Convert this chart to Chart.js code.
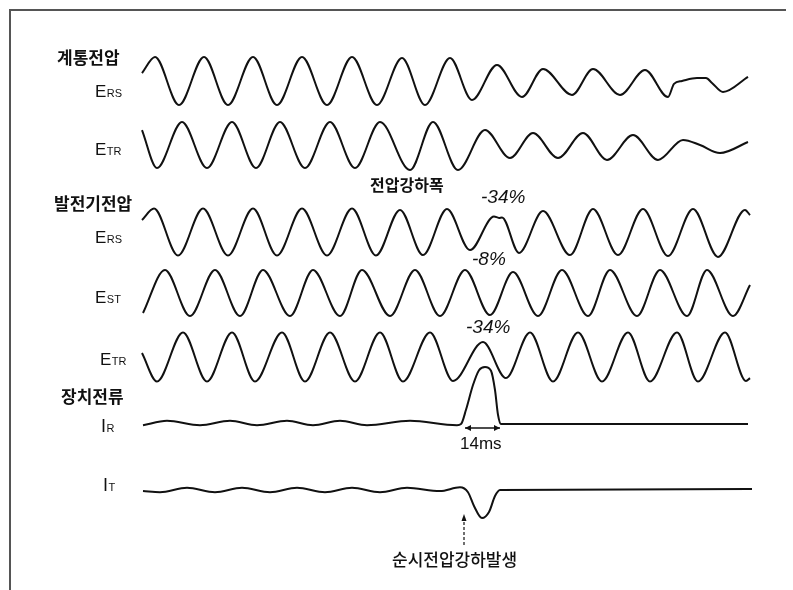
<!DOCTYPE html>
<html>
<head>
<meta charset="utf-8">
<script src="https://cdn.jsdelivr.net/npm/chart.js@4.4.1/dist/chart.umd.min.js"></script>
<style>
  html, body { margin: 0; padding: 0; background: #fff; }
  #wave { display: block; }
</style>
</head>
<body>
<canvas id="wave" width="793" height="590"></canvas>
<script>
// time in ms, value in per-unit; extrema
const sysErs = [[0,0.33],[5.2,1],[14.8,-1],[24.8,1],[34.4,-1],[44.4,1],[54,-1],[64,1],[74,-1],[84,1],[94,-1],
  [104,0.96],[113.2,-1],[123.2,0.96],[132,-0.79],[142,0.67],[152,-0.67],[160.4,0.5],[172,-0.58],[180.4,0.5],
  [191.2,-0.58],[201.2,0.46],[210.4,-0.67],[212.8,-0.12],[216,0],[222,0.12],[225.6,0.12],[228,-0.08],[232.4,-0.46],[242.4,0.17]];
const sysEtr = [[0,0.65],[6,-1],[16,1],[26,-1],[36,1],[45.6,-1],[55.2,1],[65.2,-1],[75.2,1],[85.2,-1],[95.2,1],
  [107.2,-1.09],[116.4,1],[126.4,-1.09],[137.2,0.65],[147.2,-0.57],[156.4,0.52],[166.4,-0.57],[176.4,0.52],
  [186,-0.65],[196.4,0.43],[206.4,-0.65],[216.4,0.22],[223.2,0],[231.2,-0.35],[242.4,0.13]];
const genErs = [[0,0.51],[4.8,1],[14.4,-1],[24.4,1],[34.4,-1],[44.4,1],[54,-1],[64,1],[74,-1],[84,1],[93.6,-1],
  [103.2,0.94],[112.4,-0.98],[122,0.98],[131.2,-0.77],[140.8,0.66],[142.8,0.6],[144,0.62],[150.8,-0.89],
  [160.4,0.89],[171.2,-0.98],[180.4,0.98],[190.4,-0.98],[200.4,0.98],[210.4,-1.02],[220.4,0.98],[230.4,-1.06],
  [241.2,0.94],[243.2,0.72]];
const genEst = [[0.4,-0.85],[9.2,0.98],[19.2,-0.98],[29.2,0.98],[39.2,-0.98],[48.4,0.98],[59.2,-0.98],[68.4,0.98],
  [79.2,-0.98],[88,0.98],[99.2,-0.98],[109.2,0.98],[119.2,-0.98],[129.2,0.98],[139.2,-0.94],[148.4,0.89],
  [158.4,-0.98],[168,0.98],[178.4,-0.98],[187.2,0.98],[198,-0.98],[207.2,0.98],[218,-0.98],[226,0.98],
  [236.4,-0.98],[243.2,0.34]];
const genEtr = [[0,0.16],[6,-1],[16.4,1],[26,-1],[36,1],[45.2,-1],[56,1],[65.2,-1],[75.2,1],[85.2,-1],[95.2,1],
  [104.4,-1],[115.2,1],[124.4,-0.98],[136.4,0.61],[145.6,-0.86],[155.2,1],[164.4,-1],[174.4,1],[184,-1],
  [194.4,1],[203.2,-1],[214,1],[222.4,-1],[233.2,1],[241.6,-0.98],[243.2,-0.86]];
const curR = [[0.4,-0.04],[10,0.04],[23.2,-0.04],[35.2,0.04],[46,-0.04],[58,0.04],[68.4,-0.04],[79.2,0.04],
  [90,-0.04],[107.2,0.04],[126,-0.04],[127.6,-0.02],[129.6,0.24],[132.4,0.69],[134.8,0.96],[137.2,1.02],
  [139.6,0.95],[141.2,0.6],[142.4,0.15],[143.6,-0.02],[147.2,-0.02],[242.4,-0.02]];
const curT = [[0.4,-0.02],[7.2,-0.04],[18,0.04],[29.2,-0.04],[40,0.04],[51.2,-0.04],[62,0.04],[73.2,-0.04],
  [84,0.04],[95.2,-0.04],[106,0.04],[119.2,-0.02],[127.2,0.05],[130.4,-0.04],[132.8,-0.29],[136,-0.51],
  [138.8,-0.4],[141.2,-0.11],[143.2,0],[244,0.02]];

const sagStart = 129.2;   // ms, start of the current pulse
const sagWidth = 14;      // ms

// trace placement on the sheet (baseline row, px per unit)
const traces = [
  { data: sysErs, base: 81,  gain: 24 },
  { data: sysEtr, base: 145, gain: 23 },
  { data: genErs, base: 232, gain: 23.5 },
  { data: genEst, base: 293, gain: 23.5 },
  { data: genEtr, base: 357, gain: 24.5 },
  { data: curR,   base: 423, gain: 55 },
  { data: curT,   base: 490, gain: 55 },
];

const KR = "'Noto Sans CJK KR', 'Noto Sans', sans-serif";
const LAT = "'Liberation Sans', Arial, sans-serif";

const sheetPlugin = {
  id: "sheet",
  afterDraw(chart) {
    const c = chart.ctx;
    const x = chart.scales.x;
    c.save();

    // frame
    c.strokeStyle = "#555";
    c.lineWidth = 2;
    c.beginPath();
    c.moveTo(10, 590); c.lineTo(10, 10); c.lineTo(786, 10);
    c.stroke();

    c.fillStyle = "#111";
    c.textBaseline = "middle";

    // group headings
    c.font = `bold 17px ${KR}`;
    c.fillText("계통전압", 57, 58);
    c.fillText("발전기전압", 54, 204);
    c.fillText("장치전류", 61, 397);

    // signal names with subscripts
    const sig = (main, sub, left, baseY, mSize, sSize) => {
      c.textBaseline = "alphabetic";
      c.font = `${mSize}px ${LAT}`;
      c.fillText(main, left, baseY);
      const w = c.measureText(main).width;
      c.font = `${sSize}px ${LAT}`;
      c.fillText(sub, left + w + 0.5, baseY);
    };
    sig("E", "RS", 95, 97, 17, 11);
    sig("E", "TR", 95, 155, 17, 11);
    sig("E", "RS", 95, 243, 17, 11);
    sig("E", "ST", 95, 303, 17, 11);
    sig("E", "TR", 100, 365, 17, 11);
    sig("I", "R", 101, 432, 18, 11);
    sig("I", "T", 103, 491, 18, 11);

    // annotations
    c.textBaseline = "middle";
    c.font = `bold 16px ${KR}`;
    c.fillText("전압강하폭", 370, 185);
    c.font = `italic 19px ${LAT}`;
    c.fillText("-34%", 481, 198);
    c.fillText("-8%", 472, 260);
    c.fillText("-34%", 466, 328);
    c.font = `17px ${LAT}`;
    c.fillText("14ms", 460, 444);
    c.font = `500 17px ${KR}`;
    c.fillText("순시전압강하발생", 392, 560);

    // 14 ms double arrow
    const a0 = x.getPixelForValue(sagStart);
    const a1 = x.getPixelForValue(sagStart + sagWidth);
    const ay = 428;
    c.strokeStyle = "#111";
    c.lineWidth = 1.5;
    c.beginPath();
    c.moveTo(a0, ay); c.lineTo(a1, ay);
    c.stroke();
    c.beginPath();
    c.moveTo(a0, ay); c.lineTo(a0 + 6, ay - 3); c.lineTo(a0 + 6, ay + 3); c.closePath();
    c.moveTo(a1, ay); c.lineTo(a1 - 6, ay - 3); c.lineTo(a1 - 6, ay + 3); c.closePath();
    c.fill();

    // event marker: dashed arrow pointing up
    const ex = x.getPixelForValue(sagStart - 0.4);
    c.setLineDash([3, 2]);
    c.lineWidth = 1.2;
    c.beginPath();
    c.moveTo(ex, 545); c.lineTo(ex, 519);
    c.stroke();
    c.setLineDash([]);
    c.beginPath();
    c.moveTo(ex, 514); c.lineTo(ex - 2.5, 521); c.lineTo(ex + 2.5, 521); c.closePath();
    c.fill();

    c.restore();
  },
};

new Chart(document.getElementById("wave"), {
  type: "line",
  data: {
    datasets: traces.map((tr) => ({
      data: tr.data.map(([t, v]) => ({ x: t, y: tr.base - v * tr.gain })),
      borderColor: "#111",
      borderWidth: 2,
      pointRadius: 0,
      fill: false,
      cubicInterpolationMode: "monotone",
    })),
  },
  options: {
    responsive: false,
    animation: false,
    devicePixelRatio: 1,
    layout: { padding: 0 },
    plugins: { legend: { display: false }, tooltip: { enabled: false } },
    scales: {
      x: { type: "linear", min: -56.8, max: 260.4, display: false },
      y: { min: 0, max: 590, reverse: true, display: false },
    },
  },
  plugins: [sheetPlugin],
});
</script>
</body>
</html>
